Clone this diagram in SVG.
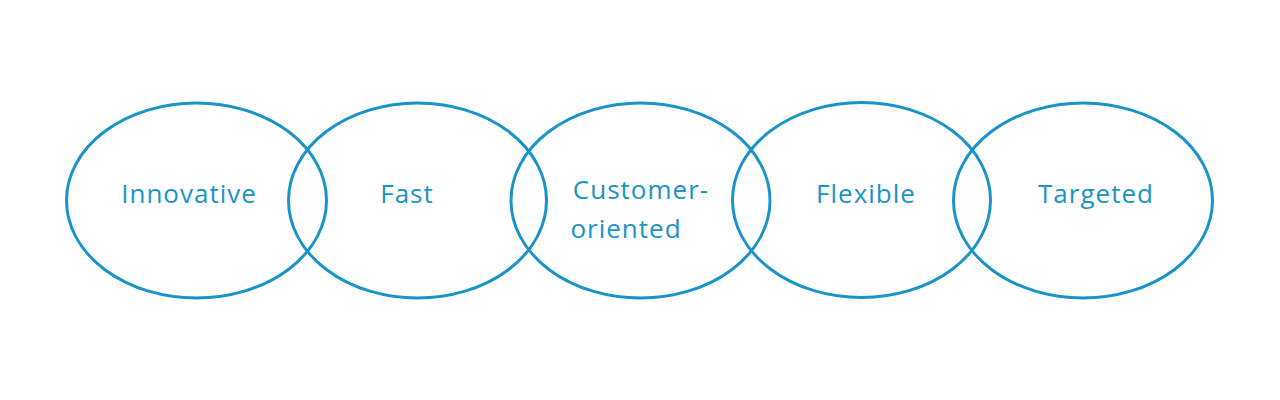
<svg xmlns="http://www.w3.org/2000/svg" width="1280" height="400" viewBox="0 0 1280 400">
<style>
.e{fill:none;stroke:#1a93c8;stroke-width:3}
.t{font-family:"Open Sans","Liberation Sans",sans-serif;font-size:26px;letter-spacing:1px;fill:#1a93c8;text-anchor:middle}
</style>
<rect width="1280" height="400" fill="#ffffff"/>
<g id="n1"><ellipse class="e" cx="196.5" cy="200.5" rx="130" ry="97.5"/><text class="t" x="189" y="203">Innovative</text></g>
<g id="n2"><ellipse class="e" cx="417.5" cy="200.5" rx="129" ry="97.5"/><text class="t" x="407" y="203">Fast</text></g>
<g id="n3"><ellipse class="e" cx="640.5" cy="200.5" rx="129.5" ry="97.5"/><text class="t" x="641" y="199">Customer-</text><text class="t" x="626" y="238">oriented</text></g>
<g id="n4"><ellipse class="e" cx="861.5" cy="200" rx="129" ry="97.5"/><text class="t" x="866" y="203">Flexible</text></g>
<g id="n5"><ellipse class="e" cx="1083" cy="200.5" rx="129.5" ry="97.5"/><text class="t" x="1096" y="203">Targeted</text></g>
<g id="connectors"></g>
</svg>
